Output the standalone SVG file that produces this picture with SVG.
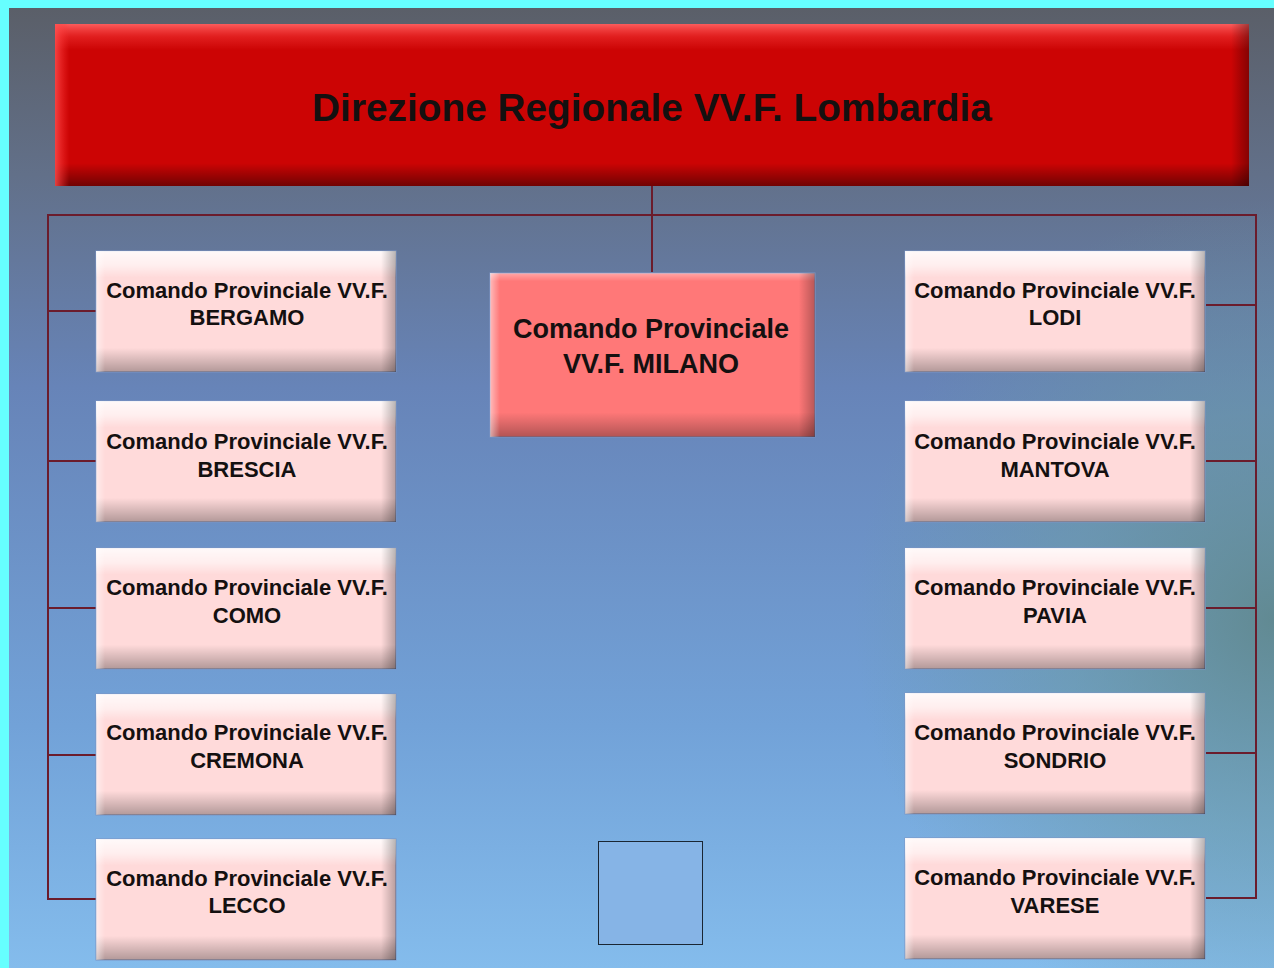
<svg xmlns="http://www.w3.org/2000/svg" width="1274" height="968" viewBox="0 0 1274 968">
<defs>
  <linearGradient id="bg" x1="0" y1="0" x2="0" y2="1">
    <stop offset="0" stop-color="#5a5e67"/>
    <stop offset="0.18" stop-color="#627089"/>
    <stop offset="0.4" stop-color="#6784b8"/>
    <stop offset="0.75" stop-color="#72a2d8"/>
    <stop offset="1" stop-color="#84bcec"/>
  </linearGradient>
  <radialGradient id="teal" cx="1274" cy="620" r="420" gradientUnits="userSpaceOnUse">
    <stop offset="0" stop-color="#5f8788" stop-opacity="0.85"/>
    <stop offset="0.5" stop-color="#6a9a9e" stop-opacity="0.5"/>
    <stop offset="1" stop-color="#6a9a9e" stop-opacity="0"/>
  </radialGradient>
  <linearGradient id="bevV" x1="0" y1="0" x2="0" y2="1">
    <stop offset="0" stop-color="#ffffff" stop-opacity="0.85"/>
    <stop offset="0.12" stop-color="#ffffff" stop-opacity="0.55"/>
    <stop offset="0.22" stop-color="#ffffff" stop-opacity="0"/>
    <stop offset="0.8" stop-color="#000000" stop-opacity="0"/>
    <stop offset="1" stop-color="#000000" stop-opacity="0.3"/>
  </linearGradient>
  <linearGradient id="bevM" x1="0" y1="0" x2="0" y2="1">
    <stop offset="0" stop-color="#ffffff" stop-opacity="0.35"/>
    <stop offset="0.05" stop-color="#ffffff" stop-opacity="0"/>
    <stop offset="0.85" stop-color="#000000" stop-opacity="0"/>
    <stop offset="1" stop-color="#000000" stop-opacity="0.3"/>
  </linearGradient>
  <linearGradient id="bevH" x1="0" y1="0" x2="1" y2="0">
    <stop offset="0" stop-color="#ffffff" stop-opacity="0.5"/>
    <stop offset="0.03" stop-color="#ffffff" stop-opacity="0"/>
    <stop offset="0.95" stop-color="#000000" stop-opacity="0"/>
    <stop offset="1" stop-color="#000000" stop-opacity="0.28"/>
  </linearGradient>
  <linearGradient id="bevVr" x1="0" y1="0" x2="0" y2="1">
    <stop offset="0" stop-color="#ff6666" stop-opacity="0.9"/>
    <stop offset="0.08" stop-color="#ff4444" stop-opacity="0.4"/>
    <stop offset="0.16" stop-color="#ff4444" stop-opacity="0"/>
    <stop offset="0.86" stop-color="#000000" stop-opacity="0"/>
    <stop offset="1" stop-color="#000000" stop-opacity="0.45"/>
  </linearGradient>
  <linearGradient id="bevHr" x1="0" y1="0" x2="1" y2="0">
    <stop offset="0" stop-color="#ff5050" stop-opacity="0.8"/>
    <stop offset="0.012" stop-color="#ff3030" stop-opacity="0"/>
    <stop offset="0.985" stop-color="#000000" stop-opacity="0"/>
    <stop offset="1" stop-color="#000000" stop-opacity="0.35"/>
  </linearGradient>
  <style>
    .conn { stroke: #6b1c2c; stroke-width: 2; fill: none; }
    .box { fill: #ffdada; stroke: #7d94c4; stroke-width: 1; }
    .t { font-family: "Liberation Sans", Arial, sans-serif; font-weight: bold; fill: #141010; text-anchor: middle; }
    .s { font-size: 22px; }
  </style>
</defs>

<rect x="0" y="0" width="1274" height="968" fill="url(#bg)"/>
<rect x="0" y="0" width="1274" height="968" fill="url(#teal)"/>
<rect x="0" y="0" width="1274" height="8" fill="#66ffff"/>
<rect x="0" y="0" width="9" height="968" fill="#66ffff"/>

<g id="connectors">
  <line class="conn" x1="652" y1="186" x2="652" y2="272"/>
  <line class="conn" x1="48" y1="215" x2="1256" y2="215"/>
  <line class="conn" x1="48" y1="214" x2="48" y2="900"/>
  <line class="conn" x1="1256" y1="214" x2="1256" y2="899"/>
  <line class="conn" x1="48" y1="311" x2="96" y2="311"/>
  <line class="conn" x1="48" y1="461" x2="96" y2="461"/>
  <line class="conn" x1="48" y1="608" x2="96" y2="608"/>
  <line class="conn" x1="48" y1="755" x2="96" y2="755"/>
  <line class="conn" x1="48" y1="899" x2="96" y2="899"/>
  <line class="conn" x1="1206" y1="305" x2="1256" y2="305"/>
  <line class="conn" x1="1206" y1="461" x2="1256" y2="461"/>
  <line class="conn" x1="1206" y1="608" x2="1256" y2="608"/>
  <line class="conn" x1="1206" y1="753" x2="1256" y2="753"/>
  <line class="conn" x1="1206" y1="898" x2="1256" y2="898"/>
</g>

<g id="direzione">
  <rect x="55" y="24" width="1194" height="162" fill="#cc0404"/>
  <rect x="55" y="24" width="1194" height="162" fill="url(#bevVr)"/>
  <rect x="55" y="24" width="1194" height="162" fill="url(#bevHr)"/>
  <text class="t" x="652" y="121" font-size="38.8">Direzione Regionale VV.F. Lombardia</text>
</g>

<g id="milano">
  <rect x="490" y="273" width="325" height="164" fill="#ff7878" stroke="#7d94c4" stroke-width="1"/>
  <rect x="490" y="273" width="325" height="164" fill="url(#bevM)"/>
  <rect x="490" y="273" width="325" height="164" fill="url(#bevH)"/>
  <text class="t" x="651" y="338" font-size="27">Comando Provinciale</text>
  <text class="t" x="651" y="373" font-size="27">VV.F. MILANO</text>
</g>

<g id="bergamo">
  <rect class="box" x="96" y="251" width="300" height="121"/>
  <rect x="96" y="251" width="300" height="121" fill="url(#bevV)"/>
  <rect x="96" y="251" width="300" height="121" fill="url(#bevH)"/>
  <text class="t s" x="247" y="298">Comando Provinciale VV.F.</text>
  <text class="t s" x="247" y="325">BERGAMO</text>
</g>
<g id="brescia">
  <rect class="box" x="96" y="401" width="300" height="121"/>
  <rect x="96" y="401" width="300" height="121" fill="url(#bevV)"/>
  <rect x="96" y="401" width="300" height="121" fill="url(#bevH)"/>
  <text class="t s" x="247" y="449">Comando Provinciale VV.F.</text>
  <text class="t s" x="247" y="477">BRESCIA</text>
</g>
<g id="como">
  <rect class="box" x="96" y="548" width="300" height="121"/>
  <rect x="96" y="548" width="300" height="121" fill="url(#bevV)"/>
  <rect x="96" y="548" width="300" height="121" fill="url(#bevH)"/>
  <text class="t s" x="247" y="595">Comando Provinciale VV.F.</text>
  <text class="t s" x="247" y="623">COMO</text>
</g>
<g id="cremona">
  <rect class="box" x="96" y="694" width="300" height="121"/>
  <rect x="96" y="694" width="300" height="121" fill="url(#bevV)"/>
  <rect x="96" y="694" width="300" height="121" fill="url(#bevH)"/>
  <text class="t s" x="247" y="740">Comando Provinciale VV.F.</text>
  <text class="t s" x="247" y="768">CREMONA</text>
</g>
<g id="lecco">
  <rect class="box" x="96" y="839" width="300" height="121"/>
  <rect x="96" y="839" width="300" height="121" fill="url(#bevV)"/>
  <rect x="96" y="839" width="300" height="121" fill="url(#bevH)"/>
  <text class="t s" x="247" y="886">Comando Provinciale VV.F.</text>
  <text class="t s" x="247" y="913">LECCO</text>
</g>

<g id="lodi">
  <rect class="box" x="905" y="251" width="300" height="121"/>
  <rect x="905" y="251" width="300" height="121" fill="url(#bevV)"/>
  <rect x="905" y="251" width="300" height="121" fill="url(#bevH)"/>
  <text class="t s" x="1055" y="298">Comando Provinciale VV.F.</text>
  <text class="t s" x="1055" y="325">LODI</text>
</g>
<g id="mantova">
  <rect class="box" x="905" y="401" width="300" height="121"/>
  <rect x="905" y="401" width="300" height="121" fill="url(#bevV)"/>
  <rect x="905" y="401" width="300" height="121" fill="url(#bevH)"/>
  <text class="t s" x="1055" y="449">Comando Provinciale VV.F.</text>
  <text class="t s" x="1055" y="477">MANTOVA</text>
</g>
<g id="pavia">
  <rect class="box" x="905" y="548" width="300" height="121"/>
  <rect x="905" y="548" width="300" height="121" fill="url(#bevV)"/>
  <rect x="905" y="548" width="300" height="121" fill="url(#bevH)"/>
  <text class="t s" x="1055" y="595">Comando Provinciale VV.F.</text>
  <text class="t s" x="1055" y="623">PAVIA</text>
</g>
<g id="sondrio">
  <rect class="box" x="905" y="693" width="300" height="121"/>
  <rect x="905" y="693" width="300" height="121" fill="url(#bevV)"/>
  <rect x="905" y="693" width="300" height="121" fill="url(#bevH)"/>
  <text class="t s" x="1055" y="740">Comando Provinciale VV.F.</text>
  <text class="t s" x="1055" y="768">SONDRIO</text>
</g>
<g id="varese">
  <rect class="box" x="905" y="838" width="300" height="121"/>
  <rect x="905" y="838" width="300" height="121" fill="url(#bevV)"/>
  <rect x="905" y="838" width="300" height="121" fill="url(#bevH)"/>
  <text class="t s" x="1055" y="885">Comando Provinciale VV.F.</text>
  <text class="t s" x="1055" y="913">VARESE</text>
</g>

<g id="square">
  <rect x="598.5" y="841.5" width="104" height="103" fill="#86b4e6" stroke="#1a2633" stroke-width="1"/>
</g>
</svg>
